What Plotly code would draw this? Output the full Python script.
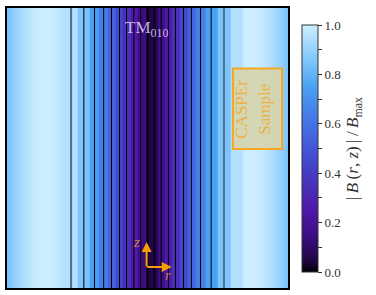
import plotly.graph_objects as go

# ---- data ----
# colormap stops (value, colour)
cmap_vals = [0.0, 0.05, 0.15, 0.25, 0.35, 0.45, 0.55, 0.65, 0.75, 0.85, 0.95, 1.0]
cmap_cols = ["#000000", "#200848", "#3c0e84", "#4e18a8", "#4a30b8", "#4248cc",
             "#4464de", "#4580e8", "#4aa2f4", "#7cc4fb", "#b2e0fe", "#cdeeff"]

# smooth |B| profile in the outer region (r normalised to the cavity radius)
r_outer = [0.544, 0.60, 0.65, 0.70, 0.75, 0.80, 0.85, 0.90, 0.95, 1.00]
B_outer = [0.93, 0.96, 0.98, 1.00, 1.00, 0.99, 0.96, 0.93, 0.89, 0.84]

# filled-contour levels and the radii where they sit
levels = [0.0, 0.1, 0.2, 0.3, 0.4, 0.5, 0.6, 0.7, 0.8, 0.9]
contour_r = [0.048, 0.097, 0.149, 0.199, 0.256, 0.312, 0.377, 0.453, 0.544]

SERIF = "Liberation Serif, Times New Roman, serif"
colorscale = [[v, c] for v, c in zip(cmap_vals, cmap_cols)]

# ---- outer smooth field ----
x_sm = [-r for r in r_outer[::-1]] + r_outer
z_sm = B_outer[::-1] + B_outer

fig = go.Figure()
fig.add_trace(go.Heatmap(
    x=x_sm, y=[-1, 1], z=[z_sm, z_sm], zsmooth="best",
    colorscale=colorscale, zmin=0, zmax=1, showscale=False, hoverinfo="skip"))

# ---- inner banded field (contourf-like) ----
mids = [levels[i] + 0.05 for i in range(len(levels))]
edges = [-r for r in contour_r[::-1]] + contour_r
z_band = mids[1:][::-1] + [mids[0]] + mids[1:]
fig.add_trace(go.Heatmap(
    x=edges, y=[-1, 1], z=[z_band, z_band], zsmooth=False,
    colorscale=colorscale, zmin=0, zmax=1, hoverinfo="skip",
    colorbar=dict(
        x=1.0498, xanchor="left", xpad=0, y=0.498, yanchor="middle", ypad=0,
        len=0.883, lenmode="fraction", thickness=16, thicknessmode="pixels",
        outlinewidth=1, outlinecolor="#333333",
        ticks="outside", ticklen=4, tickwidth=1, tickcolor="#333333",
        tickmode="linear", tick0=0, dtick=0.1, ticklabelstep=2, tickformat=".1f",
        tickfont=dict(family=SERIF, size=13, color="#333333"),
        title=dict(text="|\u2009<i>B</i>\u2009(<i>r</i>, <i>z</i>)\u2009|\u2009/\u2009<i>B</i><sub>max</sub>",
                   side="right", font=dict(family=SERIF, size=17, color="#333333")),
    )))

# contour lines
shapes = []
for r in contour_r:
    for s in (-1, 1):
        boundary = r == contour_r[-1]
        shapes.append(dict(type="line", xref="x", yref="paper", x0=s * r, x1=s * r,
                           y0=0, y1=1,
                           line=dict(color="#4d6e8e" if boundary else "#000000",
                                     width=2 if boundary else 1)))
shapes.append(dict(type="line", xref="x", yref="paper", x0=0, x1=0, y0=0, y1=1,
                   line=dict(color="#000000", width=2)))
# sample box
shapes.append(dict(type="rect", xref="paper", yref="paper",
                   x0=0.804, x1=0.979, y0=0.496, y1=0.784,
                   fillcolor="rgba(214,212,172,0.92)",
                   line=dict(color="#f5a623", width=2)))

label_font = dict(family=SERIF, size=17, color="rgba(245,166,35,0.75)")
annotations = [
    dict(text="TM<sub>010</sub>", x=0.495, y=0.972, xref="paper", yref="paper",
         showarrow=False, font=dict(family=SERIF, size=17, color="rgba(225,215,245,0.85)")),
    dict(text="CASPEr", x=0.877, y=0.640, xref="paper", yref="paper",
         showarrow=False, textangle=-90, font=label_font),
    dict(text="Sample", x=0.959, y=0.640, xref="paper", yref="paper",
         showarrow=False, textangle=-90, font=label_font),
    # z arrow
    dict(text="", x=0.497, y=0.164, xref="paper", yref="paper", ax=0, ay=26,
         showarrow=True, arrowhead=2, arrowsize=1, arrowwidth=2, arrowcolor="#f5a000"),
    # r arrow
    dict(text="", x=0.586, y=0.075, xref="paper", yref="paper", ax=-26, ay=0,
         showarrow=True, arrowhead=2, arrowsize=1, arrowwidth=2, arrowcolor="#f5a000"),
    dict(text="<i>z</i>", x=0.462, y=0.128, xref="paper", yref="paper", showarrow=False,
         font=dict(family=SERIF, size=15, color="rgba(235,160,40,0.8)")),
    dict(text="<i>r</i>", x=0.572, y=0.012, xref="paper", yref="paper", showarrow=False,
         font=dict(family=SERIF, size=15, color="rgba(235,160,40,0.8)")),
]

fig.update_layout(
    width=376, height=295, margin=dict(l=7, r=88, t=6, b=7),
    paper_bgcolor="white", plot_bgcolor="white",
    xaxis=dict(range=[-1, 1], showticklabels=False, ticks="", showgrid=False,
               zeroline=False, showline=True, mirror=True, linecolor="black", linewidth=1.5),
    yaxis=dict(range=[-1, 1], showticklabels=False, ticks="", showgrid=False,
               zeroline=False, showline=True, mirror=True, linecolor="black", linewidth=1.5),
    shapes=shapes, annotations=annotations, showlegend=False,
)

fig.write_html("out.html", config={"displayModeBar": False},
               post_script="document.body.style.margin='0';")
